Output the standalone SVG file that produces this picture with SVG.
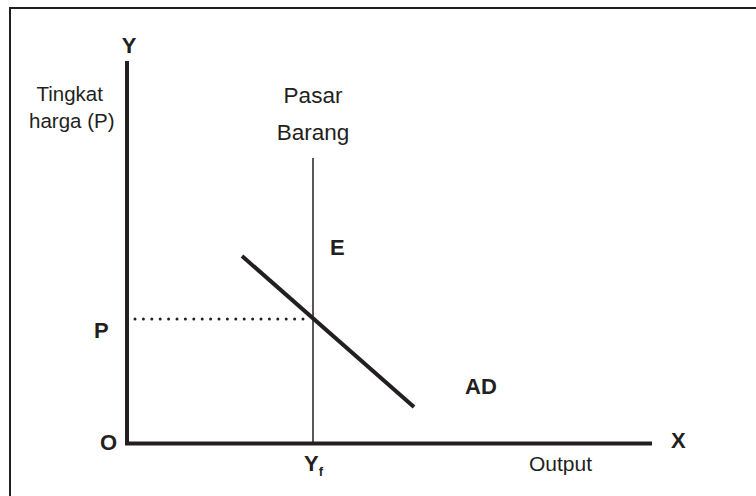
<svg xmlns="http://www.w3.org/2000/svg" width="756" height="496" viewBox="0 0 756 496">
<style>
.reg{font-family:"Liberation Sans",Arial,sans-serif;font-size:20.5px;fill:#231f20}
.bold{font-family:"Liberation Sans",Arial,sans-serif;font-size:22px;font-weight:bold;fill:#231f20}
.ax{stroke:#231f20;stroke-width:4;fill:none}
</style>
<rect x="0" y="0" width="756" height="496" fill="#fff"/>
<rect x="10" y="8" width="800" height="600" fill="none" stroke="#231f20" stroke-width="2"/>
<g id="connectors">
<line class="ax" x1="127" y1="61" x2="127" y2="445"/>
<line class="ax" x1="125" y1="443.5" x2="652" y2="443.5"/>
<line x1="313" y1="158" x2="313" y2="444" stroke="#231f20" stroke-width="1.5"/>
<line class="ax" x1="242" y1="256" x2="414" y2="407"/>
<line x1="135" y1="319" x2="304" y2="319" stroke="#231f20" stroke-width="3" stroke-linecap="round" stroke-dasharray="0 8.4"/>
</g>
<g id="label-Y"><text class="bold" x="129" y="53" text-anchor="middle">Y</text></g>
<g id="label-ylabel"><text class="reg" x="36.5" y="101">Tingkat</text><text class="reg" x="29" y="128">harga (P)</text></g>
<g id="label-pasar"><text class="reg" x="313" y="103" text-anchor="middle" style="font-size:22.5px">Pasar</text><text class="reg" x="313" y="140" text-anchor="middle" style="font-size:22.5px">Barang</text></g>
<g id="label-E"><text class="bold" x="330" y="255">E</text></g>
<g id="label-P"><text class="bold" x="94" y="338">P</text></g>
<g id="label-O"><text class="bold" x="100" y="450">O</text></g>
<g id="label-Yf"><text class="bold" x="304" y="471">Y<tspan style="font-size:13px" dy="5">f</tspan></text></g>
<g id="label-AD"><text class="bold" x="465" y="394">AD</text></g>
<g id="label-X"><text class="bold" x="671" y="448">X</text></g>
<g id="label-output"><text class="reg" x="529" y="471" style="font-size:21px">Output</text></g>
</svg>
